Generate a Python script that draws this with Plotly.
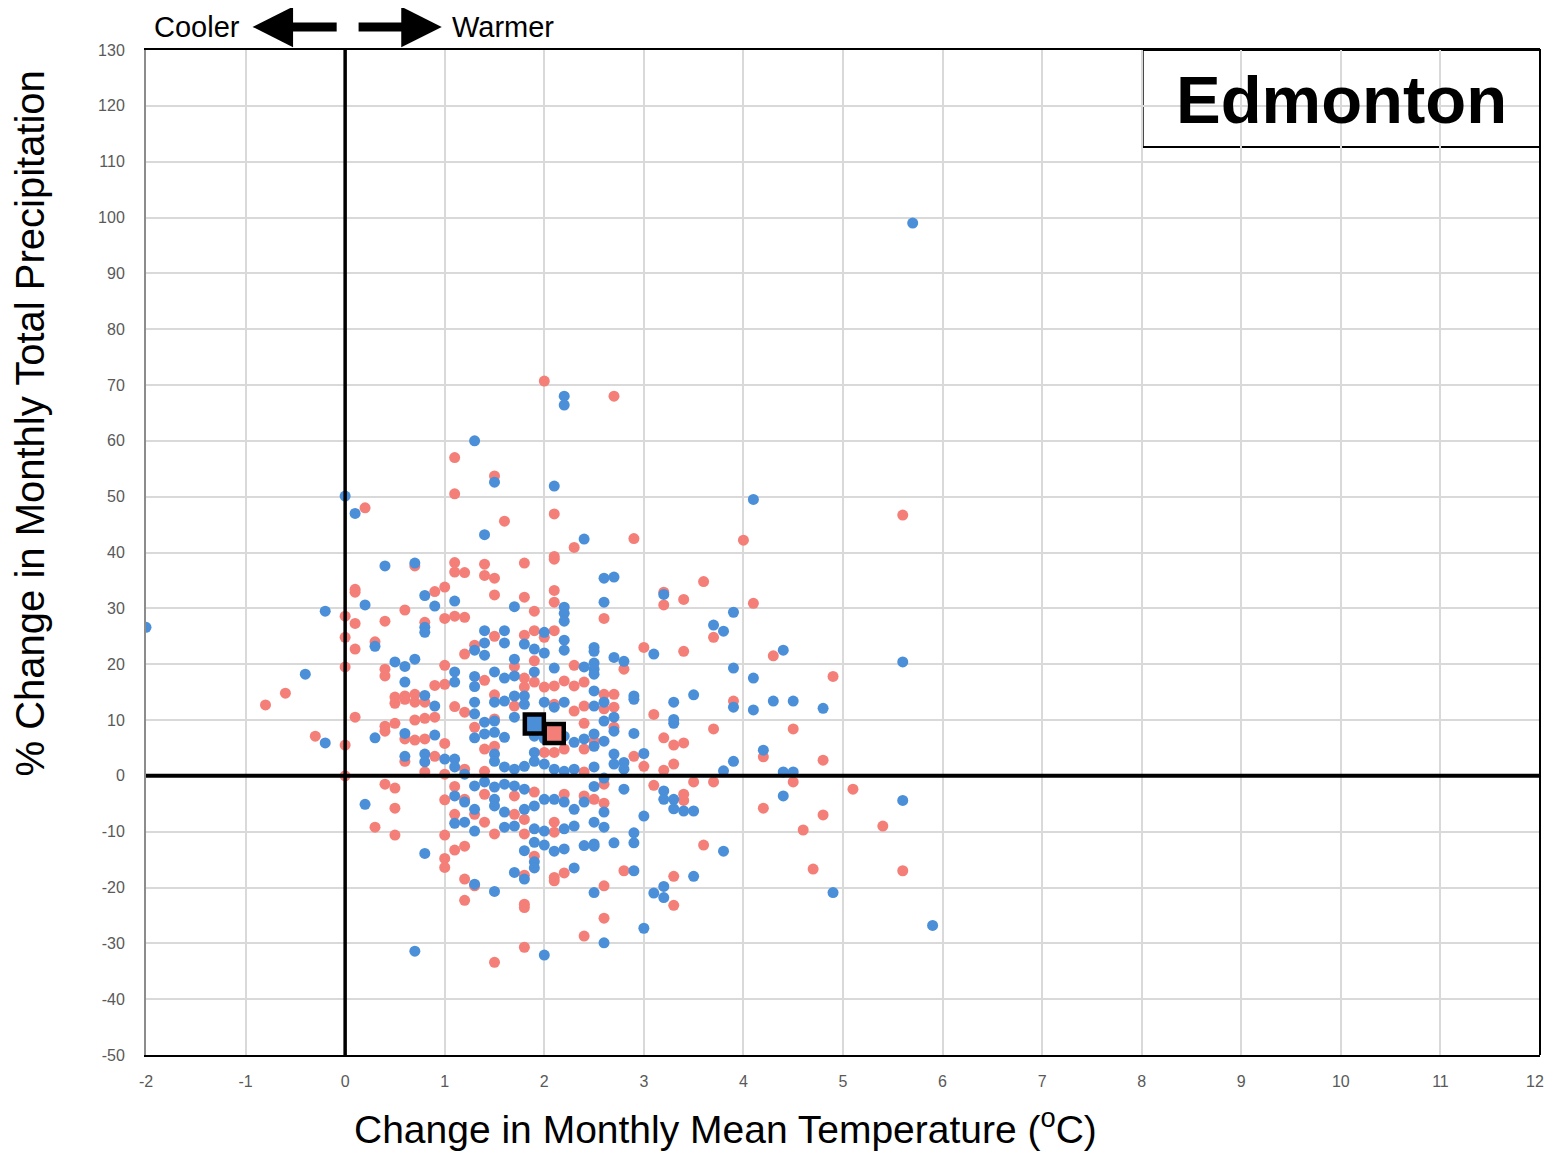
import plotly.graph_objects as go

# ---------------- data ----------------
blue_x = [-2.0, 5.7, 2.2, 2.2, 1.3, 0.0, 0.1, 1.5, 2.1, 1.4, 2.4, 4.1,
          3.9, 3.7, 3.8, 4.4, 5.6, 3.9, 4.1, 3.9, 4.1, 4.3, 4.5, 4.8,
          4.2, 3.9, 3.8, 4.4, 4.5, 4.4, 5.6, 3.8, 4.9, 5.9,
          0.8, 1.3, 1.5, 1.7, 1.8, 1.8, 1.9, 1.9, 1.9, 2.0, 2.1, 2.2, 2.3, 2.4, 2.5, 2.5, 2.7, 2.9, 2.9, 2.5, 2.6, 3.0, 2.0, 0.7, 3.5, 3.1, 3.2, 3.2,
          0.4, 0.7, 0.2, 0.8, 0.9, 1.1, -0.2, 0.8, 0.8, 0.3, 0.5, 0.6, 0.7, -0.4, 0.6, 1.1, 1.1, 0.8,
          -0.2, 0.3, 0.9, 0.6, 0.9, 0.6, 0.8, 0.8, 1.0, 1.1, 1.1, 1.1, 0.2, 1.1,
          1.7, 2.2, 2.2, 2.2, 1.4, 1.6, 2.0, 2.2, 1.4, 1.6, 1.8, 1.3, 1.9, 2.0, 1.4, 2.2, 1.7, 2.1, 1.3, 1.3, 1.5, 1.6, 1.7, 1.9, 1.7, 1.8,
          2.6, 2.7, 2.6, 3.2, 2.5, 2.5, 2.7, 2.8, 3.1, 2.4, 2.5, 2.5, 2.5, 2.5, 2.9, 3.5,
          1.3, 1.5, 1.6, 1.8, 2.0, 2.1, 2.2, 1.3, 1.4, 1.5, 1.7, 1.3, 1.4, 1.5, 1.6, 1.5, 1.5, 1.6, 1.7, 1.8, 1.2, 1.9, 1.9, 2.0, 2.1, 2.2, 2.3, 1.9, 2.0, 2.1, 2.2, 2.3,
          1.3, 1.4, 1.5, 1.6, 1.7, 1.8, 1.2, 1.3, 1.5, 1.5, 1.6, 1.8, 1.9, 2.0, 2.1, 2.2, 2.3, 1.2, 1.3, 1.6, 1.7, 1.9, 2.0, 2.2, 2.3,
          2.5, 2.6, 2.9, 3.3, 2.7, 2.6, 3.3, 3.3, 2.7, 2.9, 2.4, 2.5, 2.5, 2.6, 2.7, 2.7, 2.8, 2.8, 3.0, 2.5, 2.6, 2.5, 2.8, 3.2, 3.2, 3.3, 3.3, 3.4, 3.5, 2.4, 2.6, 3.0, 2.5, 2.6, 2.9]
blue_y = [26.6, 99.0, 68.0, 66.4, 60.0, 50.1, 47.0, 52.6, 51.9, 43.2, 42.4, 49.5,
          29.3, 27.0, 25.9, 22.5, 20.4, 19.3, 17.5, 12.3, 11.8, 13.4, 13.4, 12.1,
          4.6, 2.6, 0.9, 0.7, 0.7, -3.6, -4.4, -13.5, -20.9, -26.8,
          -13.9, -19.4, -20.7, -17.3, -18.5, -13.4, -11.9, -15.4, -16.5, -12.4, -13.5, -13.1, -16.5, -12.5, -12.2, -12.6, -12.0, -12.0, -17.0, -20.9, -29.9, -27.3, -32.1, -31.4, -18.0, -21.0, -19.8, -21.8,
          37.6, 38.1, 30.6, 32.3, 30.4, 31.3, 29.5, 26.6, 25.7, 23.2, 20.4, 19.6, 20.9, 18.2, 16.8, 18.6, 16.8, 14.4,
          5.9, 6.8, 12.5, 7.6, 7.3, 3.5, 3.9, 2.5, 3.0, 3.0, 1.6, -3.6, -5.1, -8.5,
          30.3, 30.2, 29.1, 27.7, 26.0, 26.0, 25.7, 24.3, 23.8, 23.8, 23.6, 22.5, 22.7, 22.0, 21.6, 22.5, 20.9, 19.3, 17.8, 16.0, 18.6, 17.5, 17.9, 18.6, 14.3, 14.3,
          35.4, 35.6, 31.1, 32.5, 23.0, 22.3, 21.2, 20.5, 21.8, 19.5, 20.2, 19.1, 18.2, 15.2, 14.3, 14.5,
          13.2, 13.2, 13.4, 12.8, 13.2, 12.3, 13.2, 11.1, 9.6, 9.8, 10.5, 6.8, 7.5, 7.8, 6.9, 3.9, 2.6, 1.6, 1.2, 1.7, 0.3, 4.2, 2.6, 2.1, 1.2, 0.8, 1.2, 7.1, 6.6, 7.5, 7.1, 6.0,
          -1.8, -1.1, -2.0, -1.5, -1.8, -2.4, -4.7, -6.0, -4.2, -5.4, -6.5, -6.0, -5.4, -4.2, -4.2, -4.7, -6.0, -8.3, -9.9, -9.2, -9.0, -9.5, -9.9, -9.5, -9.0,
          12.5, 13.2, 13.7, 13.2, 10.5, 9.8, 10.1, 9.4, 8.0, 7.6, 6.6, 7.5, 5.3, 6.2, 3.9, 2.1, 2.4, 1.2, 4.0, 1.6, -0.4, -1.9, -2.4, -2.7, -4.2, -4.2, -5.9, -6.3, -6.3, -4.7, -6.5, -7.2, -8.3, -9.2, -10.2]

red_x = [2.0, 2.7, 1.1, 1.1, 0.2, 1.5, 2.1, 1.6, 2.3, 2.9, 2.1, 4.0, 5.6,
         3.6, 4.1, 3.7, 4.3, 4.9, 3.9,
         3.7, 4.5, 4.2, 4.8, 3.7, 4.5, 5.1, 4.2, 4.8, 4.6, 5.4, 3.6, 4.7, 5.6,
         1.0, 1.0, 1.1, 1.2, 1.2, 1.3, 1.2, 1.8, 1.9, 2.1, 2.1, 2.2, 2.8, 2.6, 2.6, 2.4, 1.8, 1.5, 1.8, 1.8, 3.3, 3.3,
         0.7, 1.1, 1.1, 0.1, 0.1, 0.6, 0.9, 1.0, 1.0, 1.1, 0.0, 0.1, 0.4, 0.8, 0.0, 0.3, 0.1, 0.0, -0.6, 0.4, 0.4, 1.0, 0.9, 1.0, 0.6, 0.7, 0.5,
         -0.8, 0.1, -0.3, 0.0, 0.4, 0.5, 0.4, 0.5, 0.6, 0.7, 0.8, 0.7, 0.8, 0.9, 1.1, 0.6, 0.7, 0.8, 1.0, 0.6, 0.9, 0.8, 1.0, 0.0, 0.4, 0.5, 1.1, 1.0, 0.5, 1.1, 0.3, 0.5, 1.0,
         1.4, 1.8, 2.1, 1.2, 1.4, 1.5, 1.5, 1.8, 2.1, 2.1, 1.9, 1.2, 1.9, 1.8, 1.5, 2.1, 2.0, 1.3, 1.2, 2.3, 1.9, 1.7, 1.4, 1.8, 1.8, 1.9, 2.0, 2.1, 2.2, 2.3, 1.5,
         2.6, 3.2, 3.2, 3.4, 2.8, 3.0, 3.4, 2.4, 2.6, 2.7,
         1.2, 1.7, 2.1, 2.3, 1.5, 1.3, 1.4, 1.5, 1.2, 1.4, 2.0, 2.1, 2.2,
         1.2, 1.4, 1.7, 1.9, 2.2, 1.3, 1.4, 1.7, 1.8, 2.1, 1.5, 1.8, 2.1,
         2.4, 2.6, 2.7, 3.1, 2.4, 2.7, 2.4, 2.5, 3.2, 3.3, 3.4, 2.9, 3.0, 2.4, 3.2, 3.3, 2.6, 3.1, 3.5, 3.4, 3.4, 2.4, 2.5, 2.6]
red_y = [70.7, 68.0, 57.0, 50.5, 48.0, 53.7, 46.9, 45.6, 40.9, 42.5, 39.3, 42.2, 46.7,
         34.8, 30.9, 24.8, 21.5, 17.8, 13.4,
         8.4, 8.4, 3.4, 2.8, -1.1, -1.1, -2.4, -5.8, -7.0, -9.7, -9.0, -12.4, -16.7, -17.0,
         -14.8, -16.4, -13.3, -12.6, -18.5, -19.7, -22.3, -17.8, -14.4, -18.2, -18.8, -17.4, -17.0, -19.7, -25.5, -28.7, -30.7, -33.4, -23.0, -23.6, -18.0, -23.2,
         37.6, 38.2, 36.5, 33.4, 32.9, 29.7, 33.0, 33.8, 28.2, 28.6, 28.6, 27.3, 27.7, 27.5, 24.8, 24.0, 22.7, 19.5, 14.8, 19.1, 17.9, 19.8, 16.2, 16.4, 14.3, 14.6, 14.1,
         12.7, 10.5, 7.1, 5.5, 8.9, 9.4, 8.0, 13.0, 13.7, 13.2, 13.2, 10.0, 10.3, 10.5, 12.4, 6.6, 6.4, 6.6, 5.8, 2.6, 3.5, 0.7, 0.3, 0.0, -1.5, -2.2, -1.9, -4.3, -5.8, -6.9, -9.2, -10.6, -10.6,
         37.9, 38.1, 38.8, 36.4, 35.9, 35.4, 32.4, 32.0, 33.2, 31.1, 29.5, 28.4, 26.0, 25.2, 25.0, 26.0, 24.8, 23.4, 21.8, 19.8, 20.6, 19.6, 17.1, 17.5, 15.9, 16.8, 15.9, 16.1, 17.0, 16.1, 14.5,
         28.2, 32.9, 30.6, 31.6, 19.1, 23.0, 22.3, 16.8, 14.6, 14.6,
         11.4, 12.5, 12.8, 11.6, 10.2, 8.7, 4.8, 5.3, 1.2, 0.8, 4.2, 4.2, 4.8,
         -4.2, -3.3, -3.6, -2.9, -3.3, -6.9, -8.3, -6.9, -7.8, -8.3, -10.4, -10.4, -10.1,
         12.5, 12.0, 12.3, 11.0, 9.4, 8.7, 4.8, 6.2, 6.8, 5.5, 5.9, 3.5, 1.7, 0.7, 1.0, 2.1, -1.5, -1.7, -1.1, -3.3, -4.4, -3.6, -4.2, -4.9]

mean_blue = (1.9, 9.3)
mean_red = (2.1, 7.6)

x_ticks = list(range(-2, 13))
y_ticks = list(range(-50, 131, 10))

BLUE = "#4A8FD8"
RED = "#F47F78"
FONT = "Liberation Sans, Arial, Helvetica, sans-serif"
TICKFONT = dict(family=FONT, size=16, color="#595959")

fig = go.Figure()
fig.add_trace(go.Scatter(x=red_x, y=red_y, mode="markers",
                         marker=dict(size=11, color=RED), showlegend=False))
fig.add_trace(go.Scatter(x=blue_x, y=blue_y, mode="markers",
                         marker=dict(size=11, color=BLUE), showlegend=False))
fig.add_trace(go.Scatter(x=[mean_blue[0]], y=[mean_blue[1]], mode="markers",
                         marker=dict(size=19, symbol="square", color=BLUE,
                                     line=dict(color="black", width=4.5)), showlegend=False))
fig.add_trace(go.Scatter(x=[mean_red[0]], y=[mean_red[1]], mode="markers",
                         marker=dict(size=19, symbol="square", color=RED,
                                     line=dict(color="black", width=4.5)), showlegend=False))

# last x tick label is drawn as an annotation so it stays inside the page
x_ticktext = [str(v) for v in x_ticks[:-1]] + [""]

fig.update_xaxes(range=[-2, 12], tickvals=x_ticks, ticktext=x_ticktext,
                 showgrid=True, gridcolor="#d9d9d9", gridwidth=1.5,
                 zeroline=False, showline=True, linecolor="black", linewidth=2, mirror=True,
                 ticks="outside", ticklen=11, tickcolor="rgba(0,0,0,0)",
                 tickfont=TICKFONT)
fig.update_yaxes(range=[-50, 130], tickvals=y_ticks, ticktext=[str(v) for v in y_ticks],
                 showgrid=True, gridcolor="#d9d9d9", gridwidth=1.5,
                 zeroline=False, showline=True, linecolor="#8c8c8c", linewidth=2,
                 ticks="outside", ticklen=16, tickcolor="rgba(0,0,0,0)",
                 tickfont=TICKFONT)

shapes = [
    dict(type="line", xref="x", yref="y", x0=0, x1=0, y0=-50, y1=130,
         line=dict(color="black", width=3.5), layer="above"),
    dict(type="line", xref="x", yref="y", x0=-2, x1=12, y0=0, y1=0,
         line=dict(color="black", width=4), layer="above"),
    dict(type="line", xref="paper", yref="paper", x0=1, x1=1, y0=0, y1=1,
         line=dict(color="black", width=2), layer="above"),
    dict(type="rect", xref="paper", yref="paper", x0=0.715, x1=1.0, y0=0.9035, y1=1.0,
         line=dict(color="black", width=2), fillcolor="white", layer="below"),
]

annotations = [
    dict(text=str(x_ticks[-1]), xref="x", yref="paper", x=x_ticks[-1], y=-0.0259,
         xanchor="right", yanchor="middle", xshift=6, showarrow=False, font=TICKFONT),
    dict(text="Edmonton", xref="paper", yref="paper", x=0.8575, y=0.951,
         xanchor="center", yanchor="middle", showarrow=False,
         font=dict(family=FONT, size=67, color="black", weight="bold")),
    dict(text="% Change in Monthly Total Precipitation", xref="paper", yref="paper",
         x=-0.0835, y=0.628, xanchor="center", yanchor="middle", textangle=-90, showarrow=False,
         font=dict(family=FONT, size=40, color="black")),
    dict(text="Change in Monthly Mean Temperature (<sup>o</sup>C)", xref="paper", yref="paper",
         x=0.416, y=-0.071, xanchor="center", yanchor="middle", showarrow=False,
         font=dict(family=FONT, size=39, color="black")),
    dict(text="Cooler", xref="x", yref="paper", x=-1.49, y=1.023,
         xanchor="center", yanchor="middle", showarrow=False,
         font=dict(family=FONT, size=29, color="black")),
    dict(text="Warmer", xref="x", yref="paper", x=1.59, y=1.023,
         xanchor="center", yanchor="middle", showarrow=False,
         font=dict(family=FONT, size=29, color="black")),
    dict(text="", xref="x", yref="paper", x=-0.93, y=1.023,
         axref="x", ax=-0.07, ayref="pixel", ay=0,
         showarrow=True, arrowhead=2, arrowsize=0.9, arrowwidth=9, arrowcolor="black"),
    dict(text="", xref="x", yref="paper", x=0.97, y=1.023,
         axref="x", ax=0.12, ayref="pixel", ay=0,
         showarrow=True, arrowhead=2, arrowsize=0.9, arrowwidth=9, arrowcolor="black"),
]

fig.update_layout(width=1538, height=1143,
                  margin=dict(l=138, r=6, t=42, b=96),
                  plot_bgcolor="white", paper_bgcolor="white",
                  shapes=shapes, annotations=annotations,
                  font=dict(family=FONT))

fig.write_html("out.html")
